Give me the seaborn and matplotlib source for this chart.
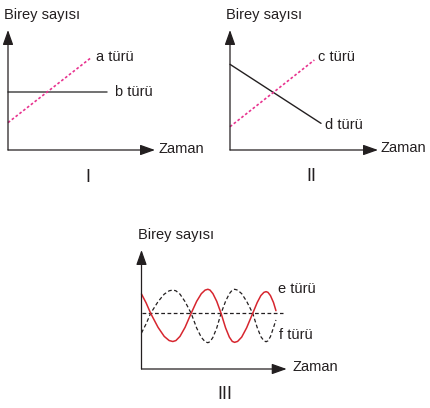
import matplotlib
matplotlib.use("Agg")
import matplotlib.pyplot as plt
import seaborn as sns
import pandas as pd

# ---------------- data ----------------
# Panel I
time_a = [0.0, 5.69]
count_a = [2.28, 7.73]
time_b = [0.0, 6.71]
count_b = [4.83, 4.83]
# Panel II
time_c = [0.0, 5.70]
count_c = [1.94, 7.50]
time_d = [0.0, 6.15]
count_d = [7.14, 2.22]
# Panel III
time_ef = [0, 0.32, 0.63, 1.14, 1.565, 1.905, 2.16, 2.37, 2.65, 3.00, 3.42,
           3.80, 4.12, 4.38, 4.57, 4.72, 4.92, 5.18, 5.48, 5.79, 6.05, 6.25,
           6.41, 6.62, 6.90, 7.24, 7.66, 7.97, 8.22, 8.43, 8.58, 8.71, 8.88,
           9.09, 9.26]
count_e = [6.30, 5.55, 4.68, 3.50, 2.74, 2.39, 2.31, 2.39, 2.74, 3.50, 4.68,
           5.69, 6.33, 6.63, 6.70, 6.63, 6.33, 5.69, 4.68, 3.46, 2.68, 2.32,
           2.24, 2.32, 2.68, 3.46, 4.68, 5.59, 6.17, 6.44, 6.50, 6.44, 6.17,
           5.59, 4.90]
count_f = [3.03, 3.80, 4.68, 5.66, 6.29, 6.57, 6.64, 6.57, 6.29, 5.66, 4.68,
           3.44, 2.66, 2.29, 2.21, 2.29, 2.66, 3.44, 4.68, 5.69, 6.33, 6.63,
           6.70, 6.63, 6.33, 5.69, 4.68, 3.48, 2.72, 2.37, 2.29, 2.37, 2.72,
           3.48, 4.12]
time_eq = [0.0, 9.72]
count_eq = [4.68, 4.68]

series_labels = ["a türü", "b türü", "c türü", "d türü", "e türü", "f türü"]
panel_names = ["I", "II", "III"]
y_title = "Birey sayısı"
x_title = "Zaman"

# ---------------- style ----------------
sns.set_theme(style="white")
plt.rcParams["font.family"] = ["Liberation Sans", "DejaVu Sans"]

INK = "#231f20"
PINK = "#e8338f"
RED = "#d7262f"
GRAY = "#4a4a4a"

W, H = 430, 408
fig = plt.figure(figsize=(W / 100, H / 100), dpi=100)
fig.patch.set_facecolor("white")


def make_axes(left, top, width, height):
    ax = fig.add_axes([left / W, (H - top - height) / H, width / W, height / H])
    ax.set_xlim(0, 10)
    ax.set_ylim(0, 10)
    for s in ax.spines.values():
        s.set_visible(False)
    ax.set_xticks([])
    ax.set_yticks([])
    ax.patch.set_alpha(0)
    arrow = dict(arrowstyle="-|>,head_length=0.9,head_width=0.32", color=INK,
                 lw=0.9, mutation_scale=10, shrinkA=0, shrinkB=0)
    ax.annotate("", xy=(1, 0), xytext=(0, 0), xycoords="axes fraction",
                textcoords="axes fraction", arrowprops=arrow, annotation_clip=False)
    ax.annotate("", xy=(0, 1), xytext=(0, 0), xycoords="axes fraction",
                textcoords="axes fraction", arrowprops=arrow, annotation_clip=False)
    return ax


def line(ax, xs, ys, color, ls, lw):
    df = pd.DataFrame({"t": xs, "n": ys})
    sns.lineplot(data=df, x="t", y="n", ax=ax, color=color, linestyle=ls,
                 linewidth=lw, estimator=None, sort=False, legend=False)
    ax.set_xlabel("")
    ax.set_ylabel("")
    ax.lines[-1].set_clip_on(False)
    ax.lines[-1].set_solid_joinstyle("round")
    ax.lines[-1].set_dash_joinstyle("round")


FS = 10.5
NFS = 13

# Panel I
ax1 = make_axes(8, 30, 147, 120)
line(ax1, time_b, count_b, GRAY, "-", 1.1)
line(ax1, time_a, count_a, PINK, (0, (1.6, 1.3)), 1.2)
ax1.text(5.99, 7.78, series_labels[0], fontsize=FS, color=INK, ha="left", va="center")
ax1.text(7.28, 4.83, series_labels[1], fontsize=FS, color=INK, ha="left", va="center")
ax1.text(-0.027, 1.125, y_title, transform=ax1.transAxes, fontsize=FS, color=INK,
         ha="left", va="center")
ax1.text(1.022, 0.012, x_title, transform=ax1.transAxes, fontsize=FS, color=INK,
         ha="left", va="center")
ax1.text(0.544, -0.225, panel_names[0], transform=ax1.transAxes, fontsize=NFS,
         color=INK, ha="center", va="center")

# Panel II
ax2 = make_axes(230, 30, 148, 120)
line(ax2, time_d, count_d, INK, "-", 1.0)
line(ax2, time_c, count_c, PINK, (0, (1.6, 1.3)), 1.2)
ax2.text(5.93, 7.78, series_labels[2], fontsize=FS, color=INK, ha="left", va="center")
ax2.text(6.42, 2.08, series_labels[3], fontsize=FS, color=INK, ha="left", va="center")
ax2.text(-0.027, 1.125, y_title, transform=ax2.transAxes, fontsize=FS, color=INK,
         ha="left", va="center")
ax2.text(1.018, 0.02, x_title, transform=ax2.transAxes, fontsize=FS, color=INK,
         ha="left", va="center")
ax2.text(0.552, -0.222, panel_names[1], transform=ax2.transAxes, fontsize=NFS,
         color=INK, ha="center", va="center")

# Panel III
ax3 = make_axes(141.5, 250, 145.2, 119)
line(ax3, time_eq, count_eq, INK, (0, (3, 2)), 0.9)
line(ax3, time_ef, count_f, INK, (0, (3, 2)), 0.9)
line(ax3, time_ef, count_e, RED, "-", 1.1)
ax3.text(9.42, 6.70, series_labels[4], fontsize=FS, color=INK, ha="left", va="center")
ax3.text(9.49, 2.86, series_labels[5], fontsize=FS, color=INK, ha="left", va="center")
ax3.text(-0.022, 1.126, y_title, transform=ax3.transAxes, fontsize=FS, color=INK,
         ha="left", va="center")
ax3.text(1.041, 0.019, x_title, transform=ax3.transAxes, fontsize=FS, color=INK,
         ha="left", va="center")
ax3.text(0.575, -0.218, panel_names[2], transform=ax3.transAxes, fontsize=NFS,
         color=INK, ha="center", va="center")

fig.savefig("out.png", dpi=100, facecolor="white")
